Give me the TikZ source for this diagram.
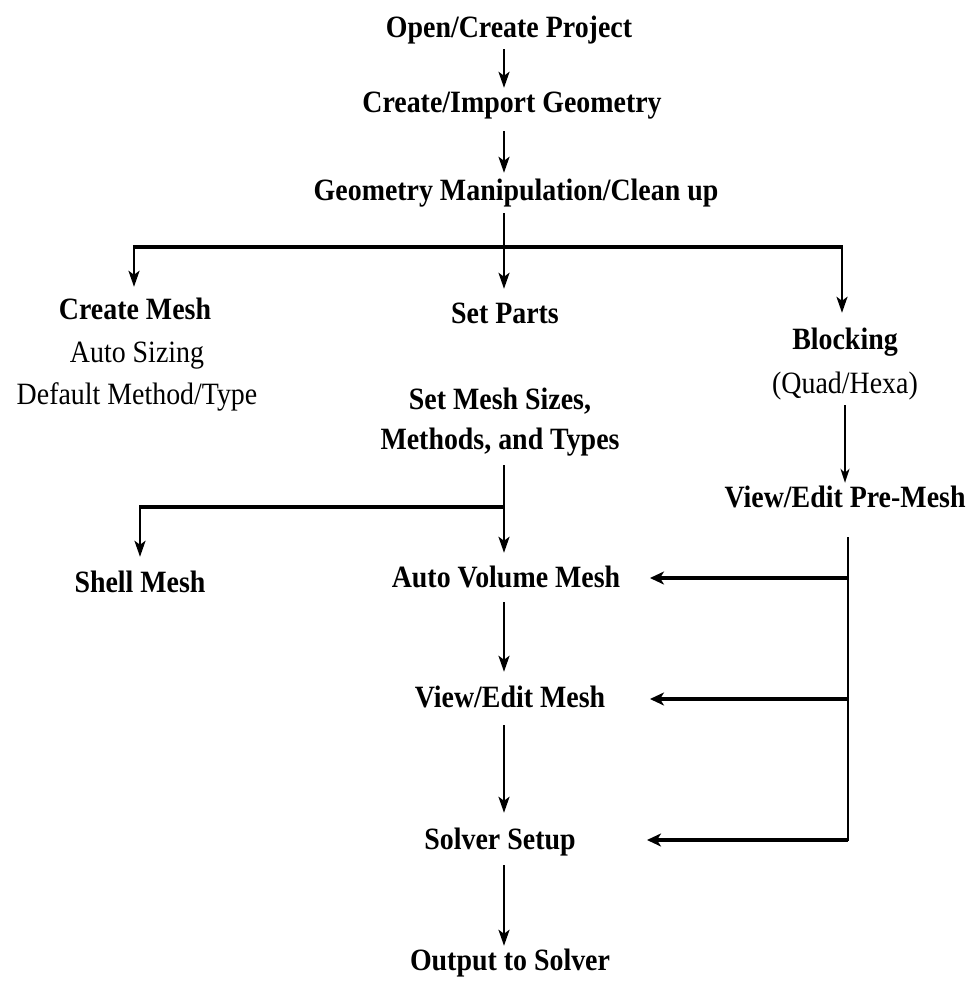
\documentclass[tikz,border=0pt]{standalone}
\usepackage{fontspec}
\setmainfont{Liberation Serif}[FakeStretch=0.9]
\usetikzlibrary{arrows.meta}
\begin{document}
\begin{tikzpicture}[x=1pt,y=-1pt,
  lbl/.style={inner sep=2.5pt,text height=22pt,text depth=7pt,font=\fontsize{31}{40}\selectfont},
  b/.style={lbl,font=\fontsize{31}{40}\selectfont\bfseries},
  n/.style={lbl},
  tip/.style={-{Stealth[length=16pt,width=11pt,inset=4pt]}},
  arr/.style={tip,line width=2.5pt},
  thinarr/.style={-{Stealth[length=14pt,width=9pt,inset=4pt]},line width=1.8pt},
  bar/.style={line width=4.5pt},
  harr/.style={-{Stealth[length=14pt,width=13pt,inset=4pt]},line width=3.6pt},
  vline/.style={line width=2.8pt}]
\useasboundingbox (0,0) rectangle (971,983);
\fill[white] (0,0) rectangle (971,983);
% nodes
\node[b] (open) at (509,30) {Open/Create Project};
\node[b] (import) at (512,105) {Create/Import Geometry};
\node[b] (geo) at (516,193) {Geometry Manipulation/Clean up};
\node[b] (cmesh) at (135,312) {Create Mesh};
\node[n] (autos) at (137,355) {Auto Sizing};
\node[n] (default) at (137,397) {Default Method/Type};
\node[b] (parts) at (505,316) {Set Parts};
\node[b] (block) at (845,342) {Blocking};
\node[n] (quad) at (845,386) {(Quad/Hexa)};
\node[b,align=center] (sizes) at (500,442) {Set Mesh Sizes,\\Methods, and Types};
\node[b] (premesh) at (845,500) {View/Edit Pre-Mesh};
\node[b] (shell) at (140,585) {Shell Mesh};
\node[b] (avm) at (506,580) {Auto Volume Mesh};
\node[b] (vem) at (510,700) {View/Edit Mesh};
\node[b] (solver) at (500,842) {Solver Setup};
\node[b] (output) at (510,963) {Output to Solver};
% helper coordinates
\coordinate (col) at (504,0);
\coordinate (j1) at (504,247);
\coordinate (jl) at (134,247);
\coordinate (jr) at (842,247);
\coordinate (j2) at (504,507);
\coordinate (j2l) at (140,507);
\coordinate (rc) at (848,0);
\coordinate (tc) at (650,0);
% top chain
\draw[arr,shorten <=2pt] (open.south -| col) -- (import.north -| col);
\draw[arr,shorten <=9pt,shorten >=3pt] (import.south -| col) -- (geo.north -| col);
\draw[line width=2.5pt,shorten <=3pt] (geo.south -| col) -- (j1);
\draw[bar] ([xshift=-1.2pt]jl) -- ([xshift=1.2pt]jr);
\draw[arr] (jl) -- ([yshift=8pt]cmesh.north -| jl);
\draw[arr] (j1) -- ([yshift=10pt]parts.north -| j1);
\draw[arr] (jr) -- ([yshift=12pt]block.north -| jr);
% blocking
\draw[thinarr,shorten <=2pt] (quad.south -| block) -- (premesh.north -| block);
% middle branch
\draw[line width=2.5pt,shorten <=6pt] (sizes.south -| j2) -- (j2);
\draw[arr] (j2) -- ([yshift=10pt]avm.north -| j2);
\draw[line width=3.8pt] (j2) -- ([xshift=-1.2pt]j2l);
\draw[arr] (j2l) -- ([yshift=11pt]shell.north -| j2l);
% lower chain
\draw[arr,shorten <=5pt] (avm.south -| col) -- ([yshift=11pt]vem.north -| col);
\draw[arr,shorten <=8pt] (vem.south -| col) -- ([yshift=12pt]solver.north -| col);
\draw[arr,shorten <=6pt] (solver.south -| col) -- (output.north -| col);
% right feedback
\draw[vline,shorten <=20pt] (premesh.south -| rc) -- ([yshift=1.3pt]rc |- solver);
\draw[harr] ([yshift=2pt]rc |- avm) -- ([yshift=2pt]tc |- avm);
\draw[harr] ([yshift=1pt]rc |- vem) -- ([yshift=1pt]tc |- vem);
\draw[harr] ([yshift=2pt]rc |- solver) -- ([xshift=-3pt,yshift=2pt]tc |- solver);
\end{tikzpicture}
\end{document}
